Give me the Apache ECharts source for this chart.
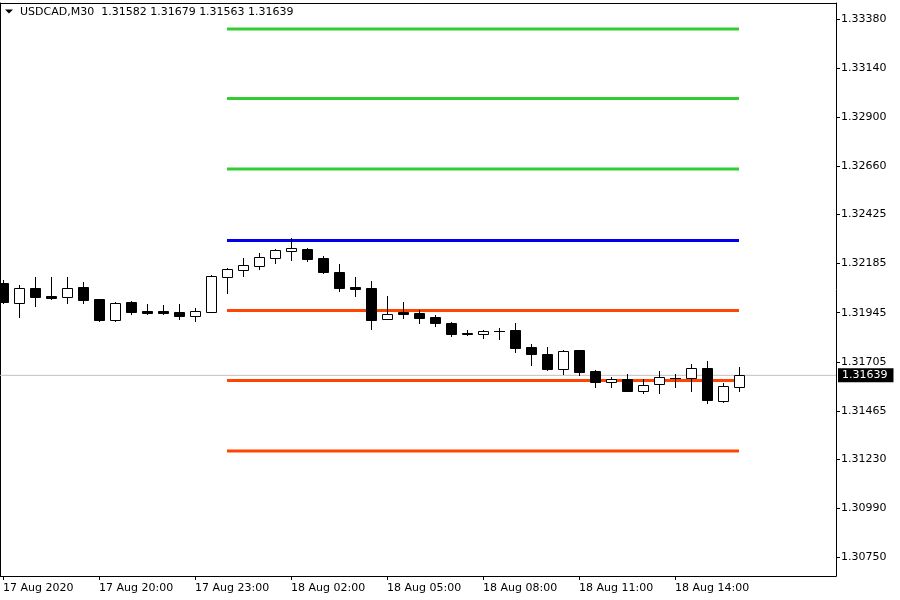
<!DOCTYPE html>
<html><head><meta charset="utf-8">
<script src="https://cdn.jsdelivr.net/npm/echarts@6/dist/echarts.min.js"></script>
<style>html,body{margin:0;padding:0;background:#fff}#c{width:900px;height:600px}</style>
</head><body><div id="c"></div>
<script>
// ---- data ----
const symbolTitle = 'USDCAD,M30';
const headerOHLC = ['1.31582', '1.31679', '1.31563', '1.31639'];
const timeLabels = ['17 Aug 2020', '17 Aug 20:00', '17 Aug 23:00', '18 Aug 02:00', '18 Aug 05:00', '18 Aug 08:00', '18 Aug 11:00', '18 Aug 14:00'];
const timeLabelBars = [0, 6, 12, 18, 24, 30, 36, 42];
const priceTicks = [1.33380, 1.33140, 1.32900, 1.32660, 1.32425, 1.32185, 1.31945, 1.31705, 1.31465, 1.31230, 1.30990, 1.30750];
const opens = [1.32092, 1.31994, 1.32066, 1.32027, 1.32020, 1.32071, 1.32012, 1.31909, 1.31997, 1.31953,
  1.31953, 1.31948, 1.31930, 1.31950, 1.32121, 1.32155, 1.32175, 1.32214, 1.32248, 1.32256,
  1.32212, 1.32144, 1.32071, 1.32066, 1.31916, 1.31948, 1.31945, 1.31924, 1.31896, 1.31847,
  1.31842, 1.31856, 1.31860, 1.31777, 1.31743, 1.31671, 1.31763, 1.31662, 1.31608, 1.31621,
  1.31564, 1.31595, 1.31628, 1.31627, 1.31675, 1.31515, 1.31582];
const closes = [1.31997, 1.32064, 1.32023, 1.32017, 1.32064, 1.32009, 1.31909, 1.31992, 1.31948, 1.31943,
  1.31943, 1.31930, 1.31953, 1.32124, 1.32159, 1.32178, 1.32217, 1.32251, 1.32261, 1.32209,
  1.32144, 1.32067, 1.32061, 1.31911, 1.31939, 1.31939, 1.31921, 1.31896, 1.31842, 1.31841,
  1.31856, 1.31855, 1.31774, 1.31745, 1.31670, 1.31759, 1.31657, 1.31608, 1.31620, 1.31564,
  1.31592, 1.31631, 1.31628, 1.31675, 1.31520, 1.31587, 1.31639];
const lows = [1.31991, 1.31925, 1.31979, 1.32013, 1.31991, 1.31994, 1.31904, 1.31904, 1.31940, 1.31941,
  1.31940, 1.31916, 1.31906, 1.31948, 1.32040, 1.32126, 1.32159, 1.32189, 1.32204, 1.32199,
  1.32140, 1.32052, 1.32028, 1.31867, 1.31914, 1.31921, 1.31896, 1.31881, 1.31833, 1.31837,
  1.31823, 1.31818, 1.31754, 1.31691, 1.31665, 1.31644, 1.31642, 1.31583, 1.31583, 1.31562,
  1.31554, 1.31554, 1.31583, 1.31564, 1.31505, 1.31510, 1.31563];
const highs = [1.32105, 1.32080, 1.32121, 1.32121, 1.32121, 1.32095, 1.32014, 1.31997, 1.32002, 1.31989,
  1.31983, 1.31988, 1.31968, 1.32131, 1.32165, 1.32212, 1.32237, 1.32256, 1.32311, 1.32261,
  1.32222, 1.32183, 1.32119, 1.32100, 1.32027, 1.31997, 1.31960, 1.31935, 1.31901, 1.31862,
  1.31862, 1.31872, 1.31896, 1.31794, 1.31779, 1.31763, 1.31765, 1.31667, 1.31631, 1.31646,
  1.31621, 1.31660, 1.31646, 1.31694, 1.31709, 1.31603, 1.31679];
const levelValues = [1.33331, 1.32992, 1.32647, 1.32298, 1.31956, 1.31614, 1.31269];
const levelKinds = ['up', 'up', 'up', 'pivot', 'down', 'down', 'down'];
const levelFromBar = 14;
const levelToBar = 46;
const lastPrice = 1.31639;

// ---- styles ----
const FONT = 'DejaVu Sans';
const levelColors = { up: '#32CD32', pivot: '#0000EE', down: '#FF4500' };
const X_MIN = -0.1875, X_MAX = 52.0625;
const Y_MIN = 1.306585, Y_MAX = 1.334582;

const candleData = opens.map((o, i) => [i, o, closes[i], lows[i], highs[i]]);

function renderCandle(params, api) {
  const i = api.value(0), o = api.value(1), c = api.value(2), l = api.value(3), h = api.value(4);
  const pO = api.coord([i, o]);
  const cx = Math.round(pO[0]) + 0.5;
  const yO = Math.round(pO[1]);
  const yC = Math.round(api.coord([i, c])[1]);
  const yH = Math.round(api.coord([i, h])[1]);
  const yL = Math.round(api.coord([i, l])[1]);
  const top = Math.min(yO, yC), bot = Math.max(yO, yC);
  const bull = c > o;
  const children = [{
    type: 'line',
    shape: { x1: cx, y1: yH, x2: cx, y2: yL + 1 },
    style: { stroke: '#000', lineWidth: 1 }
  }];
  if (bot - top < 1) {
    children.push({
      type: 'line',
      shape: { x1: cx - 5.5, y1: top + 0.5, x2: cx + 5.5, y2: top + 0.5 },
      style: { stroke: '#000', lineWidth: 1 }
    });
  } else {
    children.push({
      type: 'rect',
      shape: { x: cx - 5, y: top + 0.5, width: 10, height: bot - top },
      style: { fill: bull ? '#fff' : '#000', stroke: '#000', lineWidth: 1 }
    });
  }
  return { type: 'group', children };
}

const levelSeries = levelValues.map((v, k) => ({
  type: 'line',
  name: 'level' + k,
  data: [[levelFromBar, v], [levelToBar, v]],
  symbol: 'none',
  silent: true,
  animation: false,
  z: 3,
  lineStyle: { color: levelColors[levelKinds[k]], width: 3, cap: 'butt' }
}));

const priceLineSeries = {
  type: 'line',
  name: 'bid',
  data: [[X_MIN, lastPrice], [X_MAX, lastPrice]],
  symbol: 'none',
  silent: true,
  animation: false,
  z: 1,
  lineStyle: { color: '#C0C0C0', width: 1 },
  endLabel: {
    show: true, distance: 2,
    formatter: () => lastPrice.toFixed(5),
    backgroundColor: '#000', color: '#fff', fontFamily: FONT, fontSize: 11,
    padding: [1, 6, 1, 4], lineHeight: 12
  }
};

const chart = echarts.init(document.getElementById('c'), null, { renderer: 'canvas' });
chart.setOption({
  animation: false,
  backgroundColor: '#fff',
  textStyle: { fontFamily: FONT },
  grid: { left: 0, right: 64, top: 3, bottom: 24, outerBoundsMode: 'none', containLabel: false },
  xAxis: [{
    type: 'value', min: X_MIN, max: X_MAX, position: 'bottom',
    axisLine: { show: true, onZero: false, lineStyle: { color: '#000', width: 1 } },
    axisTick: { show: true, inside: false, length: 4, customValues: timeLabelBars, lineStyle: { color: '#000' } },
    axisLabel: {
      show: true, customValues: timeLabelBars, align: 'left', margin: 7,
      fontFamily: FONT, fontSize: 11, color: '#000',
      formatter: v => timeLabels[timeLabelBars.indexOf(Math.round(v))] || ''
    },
    splitLine: { show: false }
  }, {
    type: 'value', min: X_MIN, max: X_MAX, position: 'top',
    axisLine: { show: true, onZero: false, lineStyle: { color: '#000', width: 1 } },
    axisTick: { show: false }, axisLabel: { show: false }, splitLine: { show: false }
  }],
  yAxis: [{
    type: 'value', min: Y_MIN, max: Y_MAX, position: 'right', scale: true,
    axisLine: { show: true, onZero: false, lineStyle: { color: '#000', width: 1 } },
    axisTick: { show: true, inside: false, length: 4, customValues: priceTicks, lineStyle: { color: '#000' } },
    axisLabel: {
      show: true, customValues: priceTicks, margin: 5, align: 'left',
      fontFamily: FONT, fontSize: 11, color: '#000',
      formatter: v => v.toFixed(5)
    },
    splitLine: { show: false }
  }, {
    type: 'value', min: Y_MIN, max: Y_MAX, position: 'left', scale: true,
    axisLine: { show: true, onZero: false, lineStyle: { color: '#000', width: 1 } },
    axisTick: { show: false }, axisLabel: { show: false }, splitLine: { show: false }
  }],
  series: [priceLineSeries].concat(levelSeries, [{
    type: 'custom',
    name: 'candles',
    renderItem: renderCandle,
    data: candleData,
    encode: { x: 0, y: [1, 2, 3, 4] },
    clip: true,
    z: 10,
    silent: true
  }]),
  graphic: [{
    type: 'polygon', silent: true,
    shape: { points: [[5, 9.5], [13, 9.5], [9, 13.5]] },
    style: { fill: '#000' }
  }, {
    type: 'text', silent: true, left: 20, top: 7,
    style: {
      text: symbolTitle + '  ' + headerOHLC.join(' '),
      font: '11px "DejaVu Sans"', fill: '#000'
    }
  }]
});
</script>
</body></html>
